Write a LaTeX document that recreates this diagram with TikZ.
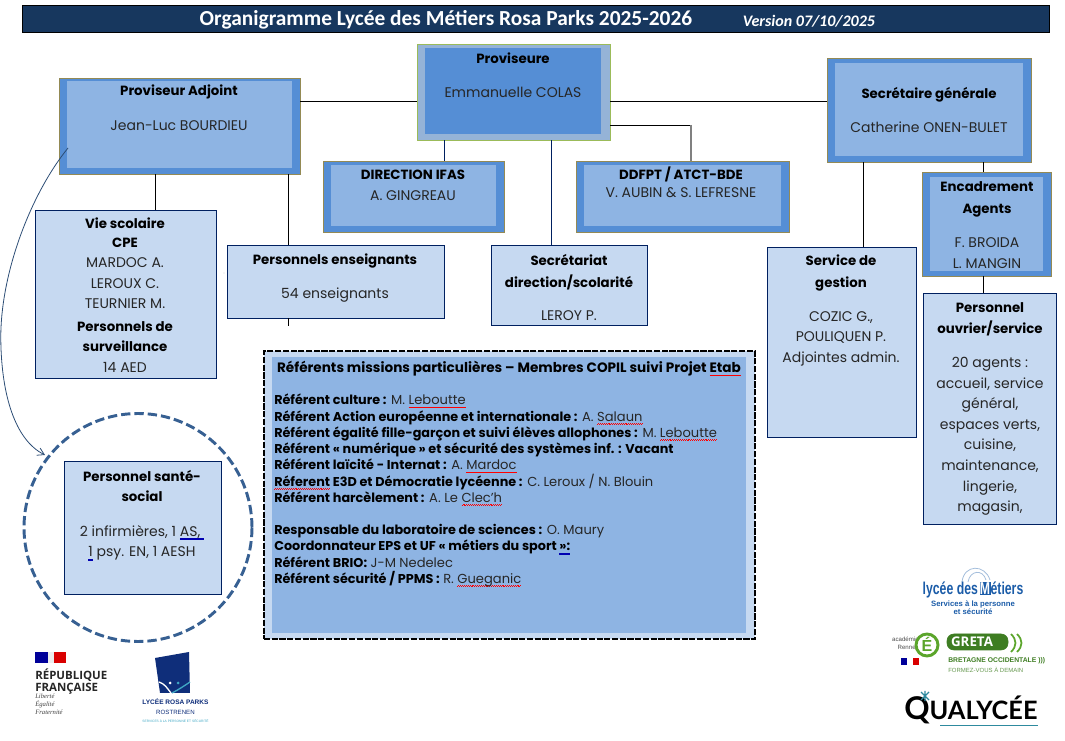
\documentclass[tikz,border=0pt]{standalone}
\usepackage{fontspec}
\usepackage{graphicx}
\usetikzlibrary{arrows.meta,calc}
\setmainfont{Poppins}
\newfontfamily\carlito{Carlito}
\newfontfamily\opens{Open Sans}
\newfontfamily\latof{Lato}
\newfontfamily\libserif{Liberation Serif}
\newfontfamily\libsans{Liberation Sans}
\definecolor{titlebg}{HTML}{17375E}
\definecolor{midblue}{HTML}{558ED5}
\definecolor{softblue}{HTML}{8EB4E3}
\definecolor{paleblue}{HTML}{C6D9F1}
\definecolor{greyblue}{HTML}{95B3D7}
\definecolor{navyline}{HTML}{002060}
\definecolor{olive}{HTML}{948A54}
\definecolor{lime}{HTML}{9BBB59}
\definecolor{circ}{HTML}{376092}
\definecolor{txtgrey}{HTML}{262626}
\definecolor{logoblue}{HTML}{0F2E7A}
\definecolor{logoteal}{HTML}{3FA7C4}
\definecolor{metblue}{HTML}{1B5CA8}
\definecolor{gretagreen}{HTML}{5BA52B}
\definecolor{gretadark}{HTML}{3E7D22}
\definecolor{qualteal}{HTML}{2E8A9E}
\newsavebox\wordbox
\newcommand\btsize{10}
\newcommand\bt[1]{{\fontsize{\btsize}{0}\selectfont\bfseries\color{black}#1}}
\newcommand\zigunit{\hbox{\textcolor{red}{\rule[0pt]{.7pt}{.32pt}\rule[.45pt]{.7pt}{.32pt}}}}
\newcommand\sq[1]{\leavevmode\sbox\wordbox{#1}\rlap{\lower2.2pt\hbox to \wd\wordbox{\xleaders\zigunit\hfill}}\usebox\wordbox}
\newcommand\bl[1]{\leavevmode\sbox\wordbox{#1}\rlap{\textcolor{blue!70!black}{\rule[-2.4pt]{\wd\wordbox}{.3pt}}}\rlap{\textcolor{blue!70!black}{\rule[-1.5pt]{\wd\wordbox}{.3pt}}}\usebox\wordbox}
\newcommand\mkbox[6]{\node[#2,minimum width={(#5-#3)*.75pt},minimum height={(#6-#4)*.75pt}] (#1) at ({(#3+#5)/2},{(#4+#6)/2}) {};}
\tikzset{
  x=.75pt,y=-.75pt,
  outerbox/.style={rectangle,inner sep=0pt,draw=olive,line width=.6pt,fill=midblue},
  provouter/.style={rectangle,inner sep=0pt,draw=lime,line width=.7pt,fill=greyblue},
  softinner/.style={rectangle,inner sep=0pt,fill=softblue},
  midinner/.style={rectangle,inner sep=0pt,fill=midblue},
  palebox/.style={rectangle,inner sep=0pt,draw=navyline,line width=.7pt,fill=paleblue},
  txt/.style={inner sep=0pt,anchor=north,align=center,text=txtgrey},
  conn/.style={draw=black,line width=.6pt},
}
\begin{document}
\begin{tikzpicture}
\useasboundingbox (0,0) rectangle (1065,741);
% title
\mkbox{bar}{rectangle,inner sep=0pt,draw=black,line width=.7pt,fill=titlebg}{22}{5}{1049}{32}
\node[inner sep=0pt,text=white,font=\carlito\bfseries\fontsize{16.05}{18}\selectfont] (title) at (446,20) {Organigramme Lycée des Métiers Rosa Parks 2025-2026};
\node[inner sep=0pt,text=white,font=\carlito\bfseries\itshape\fontsize{12.05}{13}\selectfont] (version) at (809,21) {Version 07/10/2025};
% boxes
\mkbox{prov}{provouter}{417}{44}{610}{140}
\mkbox{provi}{midinner}{425}{48}{601}{134}
\mkbox{padj}{outerbox}{59}{78}{300}{174}
\mkbox{padji}{softinner}{67}{81}{292}{168}
\mkbox{sec}{outerbox}{827}{58}{1031}{162}
\mkbox{seci}{softinner}{835}{63}{1023}{156}
\mkbox{ifas}{outerbox}{323}{161}{504}{232}
\mkbox{ifasi}{softinner}{331}{165}{496}{226}
\mkbox{ddf}{outerbox}{576}{161}{789}{232}
\mkbox{ddfi}{softinner}{584}{165}{781}{226}
\mkbox{enc}{outerbox}{922}{172}{1051}{276}
\mkbox{enci}{softinner}{930}{177}{1043}{271}
\mkbox{vie}{palebox}{35}{210}{216}{378}
\mkbox{ens}{palebox}{227}{245}{444}{318}
\mkbox{scol}{palebox}{491}{245}{647}{325}
\mkbox{gest}{palebox}{767}{247}{916}{437}
\mkbox{ouv}{palebox}{923}{293}{1056}{524}
\mkbox{ref}{rectangle,inner sep=0pt,draw=black,line width=2.1pt,dash pattern=on 4.6pt off 1.2pt,fill=paleblue}{264}{351}{755}{639}
\mkbox{refi}{softinner}{272}{357}{746}{633}
\node[circle,inner sep=0pt,minimum size=171pt,draw=circ,line width=2.2pt,dash pattern=on 7pt off 3pt] (cir) at (138,527.5) {};
\mkbox{sante}{palebox}{64}{461}{221}{594}
% connectors
\coordinate (stub) at (288,326);
\draw[conn] (padj.east |- 0,101) -- (prov.west |- 0,101);
\draw[conn] (prov.east |- 0,101) -- (sec.west |- 0,101);
\draw[conn] (prov.east |- 0,125) -- (691,125);
\draw[draw=gray,line width=1.3pt] (691,125) -- (691,0 |- ddf.north);
\draw[draw=navyline,line width=.6pt] (444,0 |- prov.south) -- (444,0 |- ifas.north);
\draw[draw=navyline,line width=.6pt] (551,0 |- prov.south) -- (551,0 |- scol.north);
\draw[conn] (155,0 |- padj.south) -- (155,0 |- vie.north);
\draw[conn] (288,0 |- padj.south) -- (288,0 |- ens.north);
\draw[conn] (288,0 |- ens.south) -- (stub);
\draw[conn] (863,0 |- sec.south) -- (863,0 |- gest.north);
\draw[conn] (983,0 |- sec.south) -- (983,0 |- enc.north);
\draw[conn] (983,0 |- enc.south) -- (983,0 |- ouv.north);
\coordinate (arrstart) at (68,148);
\coordinate (arrmid) at (.8,340);
\coordinate (arrend) at (45,455);
\draw[draw=circ!80!black,line width=.6pt,-{Straight Barb[length=5pt,width=6pt]}] (arrstart) .. controls (30,195) and (0,275) .. (arrmid) .. controls (1.5,395) and (15,440) .. (arrend);
% speck
\fill[gray] (224,273) circle (.4);
% texts
\begin{scope}[every node/.append style={font=\fontsize{10.5}{15.4}\selectfont}]
\node[txt] (tprov) at (513,52.5) {\bt{Proviseure}\\[10.5pt]Emmanuelle COLAS};
\node[txt] (tadj) at (179,85) {\bt{Proviseur Adjoint}\\[10.5pt]Jean-Luc BOURDIEU};
\node[txt] (tsec) at (929,87) {\bt{Secrétaire générale}\\[10.5pt]Catherine ONEN-BULET};
\node[txt] (tifas) at (413,170) {\bt{DIRECTION IFAS}\\A. GINGREAU};
\node[txt,font=\fontsize{10.5}{13}\selectfont] (tddf) at (681,167) {\bt{DDFPT / ATCT-BDE}\\V. AUBIN \& S. LEFRESNE};
\node[txt] (tvie) at (125,218) {\bt{Vie scolaire}\\[-1.6pt]\bt{CPE}\\MARDOC A.\\LEROUX C.\\TEURNIER M.\\[1.2pt]\bt{Personnels de}\\\bt{surveillance}\\14 AED};
\node[txt] (tens) at (335,254) {\bt{Personnels enseignants}\\[10pt]54 enseignants};
\node[txt] (tscol) at (569,254) {\bt{Secrétariat}\\[1pt]\bt{direction/scolarité}\\[9.5pt]LEROY P.};
\node[txt] (tgest) at (841,255) {\bt{Service de}\\[1pt]\bt{gestion}\\[9.5pt]COZIC G.,\\POULIQUEN P.\\Adjointes admin.};
\node[txt] (tenc) at (987,181) {\bt{Encadrement}\\[1.2pt]\bt{Agents}\\[10.5pt]F. BROIDA\\L. MANGIN};
\node[txt] (touv) at (990,302) {\bt{Personnel}\\[1pt]\bt{ouvrier/service}\\[10pt]20 agents :\\accueil, service\\général,\\espaces verts,\\cuisine,\\maintenance,\\lingerie,\\magasin,};
\node[txt] (tsante) at (142,470) {\bt{Personnel santé-}\\\bt{social}\\[10.5pt]2 infirmières, 1 \bl{AS, }\\\bl{1} psy. EN, 1 AESH};
\renewcommand\btsize{10.2}
\node[txt,font=\fontsize{10}{12}\selectfont] (treft) at (509,361) {\bt{Référents missions particulières – Membres COPIL suivi Projet \sq{Etab}}};
\renewcommand\btsize{9.6}
\node[inner sep=0pt,anchor=north west,align=left,text=txtgrey,font=\fontsize{9.8}{12.17}\selectfont] (tref) at (274,394) {%
\bt{Référent culture :} M. \sq{Leboutte}\\
\bt{Référent Action européenne et internationale :} A. \sq{Salaun}\\
\bt{Référent égalité fille-garçon et suivi élèves allophones :} M. \sq{Leboutte}\\
\bt{Référent « numérique » et sécurité des systèmes inf. : Vacant}\\
\bt{Référent laïcité - Internat :} A. \sq{Mardoc}\\
\bt{\sq{Réferent} E3D et Démocratie lycéenne :} C. Leroux / N. Blouin\\
\bt{Référent harcèlement :} A. Le \sq{Clec’h}\\[12.17pt]
\bt{Responsable du laboratoire de sciences :} O. Maury\\
\bt{Coordonnateur EPS et UF « métiers du sport \bl{»:}}\\
\bt{Référent BRIO:} J-M Nedelec\\
\bt{Référent sécurité / PPMS :} R. \sq{Gueganic}};
\end{scope}
% logo Republique francaise
\fill[blue!60!black] (35,652) rectangle (48,663);
\fill[red!85!black] (54,652) rectangle (66,663);
\fill[gray!15] (48,652) rectangle (54,663);
\node[inner sep=0pt,anchor=north west,align=left,font=\opens\bfseries\fontsize{8.6}{8.9}\selectfont,text=black!85] (lrf) at (35,669) {RÉPUBLIQUE\\FRANÇAISE};
\node[inner sep=0pt,anchor=north west,align=left,font=\libserif\itshape\fontsize{5}{6}\selectfont,text=black!75] (lrf2) at (35,693.5) {Liberté\\Égalité\\Fraternité};
% logo Rosa Parks
\fill[logoblue] (155,658) -- (189,652) -- (190,693) -- (160,693) -- cycle;
\draw[white,line width=1pt] (159,682) .. controls (165,684) and (167,688) .. (171,693);
\draw[logoteal,line width=1pt] (172,693) .. controls (178,690) and (184,686) .. (190,682);
\fill[white] (170,683) circle (1.5);
\fill[logoteal] (178,683) circle (1.5);
\node[inner sep=0pt,font=\libsans\bfseries\fontsize{4.9}{6}\selectfont,text=logoblue] (lrp1) at (175.5,702) {LYCÉE ROSA PARKS};
\node[inner sep=0pt,font=\libsans\fontsize{4.6}{5}\selectfont,text=logoblue] (lrp2) at (175.5,712) {ROSTRENEN};
\node[inner sep=0pt,font=\libsans\fontsize{2.45}{3}\selectfont,text=logoteal] (lrp3) at (175.5,721) {SERVICES À LA PERSONNE ET SÉCURITÉ};
% logo metiers
\draw[metblue!40,line width=.6pt] (962,582) .. controls (964,564) and (985,564) .. (990,580);
\draw[metblue!40,line width=.6pt] (968,582) .. controls (970,570) and (983,569) .. (986,580);
\node[inner sep=0pt,font=\libsans\bfseries\fontsize{11.5}{12}\selectfont,text=metblue] (lm1) at (973,590) {\scalebox{.8}[1.12]{lycée des\kern1.5pt{\setlength\fboxsep{.4pt}\colorbox{metblue}{\color{white}M}}étiers}};
\node[inner sep=0pt,align=center,font=\libsans\bfseries\fontsize{5.8}{6.2}\selectfont,text=metblue] (lm2) at (973,608) {Services à la personne\\et sécurité};
% logo greta
\node[inner sep=0pt,align=right,anchor=east,font=\libsans\fontsize{4.6}{6}\selectfont,text=black!70] (lg0) at (919,643) {académie\\Rennes};
\draw[gretagreen,line width=2.2pt,fill=white] (927,645) circle (11);
\node[inner sep=0pt,font=\libsans\bfseries\fontsize{12}{12}\selectfont,text=gretagreen] (lg1) at (927,644) {É};
\fill[blue!60!black] (901,658) rectangle (907,665);
\fill[red!85!black] (913,658) rectangle (919,665);
\draw[gretadark,fill=gretadark,rounded corners=5pt] (947,634) -- (1008,634) -- (1008,650) -- (947,650) -- cycle;
\node[inner sep=0pt,font=\opens\bfseries\fontsize{10}{11}\selectfont,text=white] (lg2) at (972,642) {GRETA};
\draw[gretagreen,line width=1.3pt] (1011,634) .. controls (1017,640) and (1017,646) .. (1011,652);
\draw[gretagreen,line width=1.3pt] (1017,634) .. controls (1023,640) and (1023,646) .. (1017,652);
\node[inner sep=0pt,anchor=west,font=\libsans\bfseries\fontsize{5.1}{6}\selectfont,text=gretadark] (lg3) at (948,661) {BRETAGNE OCCIDENTALE )))};
\node[inner sep=0pt,anchor=west,font=\libsans\fontsize{4.5}{6}\selectfont,text=gretadark!80] (lg4) at (948,670) {FORMEZ-VOUS À DEMAIN};
% logo qualycee
\node[inner sep=0pt,anchor=west,font=\latof\bfseries\fontsize{19}{20}\selectfont,text=black] (lq) at (904,710) {{\fontsize{23.5}{20}\selectfont Q}UALYCÉE};
\draw[qualteal,line width=1.1pt] (940,725.5) -- (1038,725.5);
\draw[qualteal,line width=1pt] (921,692) -- (929,700) (929,692) -- (921,700) (925,691) -- (925,701);
\end{tikzpicture}
\end{document}
